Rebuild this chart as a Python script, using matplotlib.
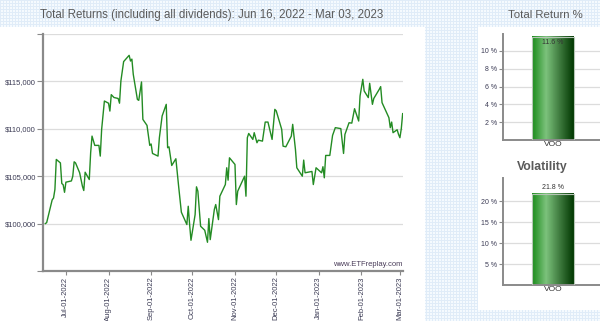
import numpy as np
import pandas as pd
from matplotlib import pyplot as plt
from matplotlib import dates as mpl_dates
from matplotlib.colors import LinearSegmentedColormap

# portfolio value
dates = ['2022-06-16', '2022-06-17', '2022-06-21', '2022-06-22', '2022-06-23', '2022-06-24',
         '2022-06-27', '2022-06-28', '2022-06-29', '2022-06-30', '2022-07-01', '2022-07-05',
         '2022-07-06', '2022-07-07', '2022-07-08', '2022-07-11', '2022-07-13', '2022-07-14',
         '2022-07-15', '2022-07-18', '2022-07-19', '2022-07-20', '2022-07-22', '2022-07-25',
         '2022-07-26', '2022-07-27', '2022-07-29', '2022-08-01', '2022-08-02', '2022-08-03',
         '2022-08-05', '2022-08-08', '2022-08-09', '2022-08-10', '2022-08-12', '2022-08-16',
         '2022-08-17', '2022-08-18', '2022-08-19', '2022-08-22', '2022-08-23', '2022-08-25',
         '2022-08-26', '2022-08-29', '2022-08-31', '2022-09-01', '2022-09-02', '2022-09-06',
         '2022-09-07', '2022-09-09', '2022-09-12', '2022-09-13', '2022-09-14', '2022-09-16',
         '2022-09-19', '2022-09-21', '2022-09-23', '2022-09-27', '2022-09-28', '2022-09-29',
         '2022-09-30', '2022-10-03', '2022-10-04', '2022-10-05', '2022-10-07', '2022-10-10',
         '2022-10-12', '2022-10-13', '2022-10-14', '2022-10-17', '2022-10-18', '2022-10-20',
         '2022-10-21', '2022-10-25', '2022-10-26', '2022-10-27', '2022-10-28', '2022-11-01',
         '2022-11-02', '2022-11-03', '2022-11-08', '2022-11-09', '2022-11-10', '2022-11-11',
         '2022-11-14', '2022-11-15', '2022-11-17', '2022-11-18', '2022-11-21', '2022-11-23',
         '2022-11-25', '2022-11-28', '2022-11-30', '2022-12-01', '2022-12-05', '2022-12-06',
         '2022-12-08', '2022-12-12', '2022-12-13', '2022-12-15', '2022-12-16', '2022-12-20',
         '2022-12-21', '2022-12-22', '2022-12-27', '2022-12-28', '2022-12-30', '2023-01-03',
         '2023-01-04', '2023-01-05', '2023-01-06', '2023-01-09', '2023-01-11', '2023-01-13',
         '2023-01-17', '2023-01-19', '2023-01-20', '2023-01-23', '2023-01-25', '2023-01-27',
         '2023-01-30', '2023-01-31', '2023-02-02', '2023-02-03', '2023-02-06', '2023-02-07',
         '2023-02-09', '2023-02-10', '2023-02-14', '2023-02-15', '2023-02-16', '2023-02-21',
         '2023-02-22', '2023-02-23', '2023-02-24', '2023-02-27', '2023-02-28', '2023-03-01',
         '2023-03-02', '2023-03-03']
values = [100000, 100100, 102500, 102700, 103600, 106770,
          106400, 104230, 104100, 103300, 104370, 104500,
          105000, 106520, 106400, 105360, 103950, 103490,
          105420, 104650, 107470, 109230, 108250, 108250,
          107120, 109940, 112930, 112700, 111870, 113600,
          113300, 113200, 112700, 115040, 117090, 117750,
          117150, 117350, 115750, 113100, 113000, 114940,
          110990, 110360, 108250, 108400, 107400, 107120,
          109060, 111350, 112580, 108000, 108100, 106130,
          106840, 103950, 101200, 99900, 101830, 99900,
          98240, 100950, 103880, 103420, 99720, 99300,
          98030, 100530, 98310, 101500, 102010, 100420,
          102890, 104120, 105890, 104580, 106940, 106240,
          102010, 103420, 105000, 102890, 109060, 109510,
          108880, 109590, 108530, 108800, 108700, 110710,
          110710, 108880, 112050, 111900, 109940, 108170,
          108100, 109230, 110470, 107820, 105890, 105000,
          106700, 105360, 105500, 104120, 105890, 105360,
          106000, 104830, 107190, 107190, 109300, 110120,
          110020, 107400, 109410, 110640, 110600, 112120,
          110820, 113460, 115220, 113990, 113290, 114800,
          112580, 113200, 114170, 114450, 112760, 111170,
          110120, 110710, 109590, 109900, 109410, 109060,
          110000, 111600]

tickers = ['VOO']
total_return = [11.6]
volatility = [21.8]

W, H = 600, 321
fig = plt.figure(figsize=(W / 100, H / 100), dpi=100)
plt.rcParams['font.family'] = ['Liberation Sans', 'DejaVu Sans']

# light blue graph-paper background strips
bg = np.ones((H, W, 3))
pat = np.ones((H, W, 3)) * np.array([245, 250, 254]) / 255
pat[::3, :] = np.array([224, 236, 248]) / 255
pat[:, ::3] = np.array([224, 236, 248]) / 255
mask = np.zeros((H, W), bool)
mask[:27, :] = True
mask[27:, 425:478] = True
mask[310:, 425:] = True
bg[mask] = pat[mask]
fig.figimage(bg, xo=0, yo=0, origin='upper', zorder=-10)


def fbox(x0, y0, x1, y1):
    return [x0 / W, 1 - y1 / H, (x1 - x0) / W, (y1 - y0) / H]


grey = '#8a8a8a'
lab = '#3c3c55'

# ---- main line chart
ax = fig.add_axes(fbox(43, 34, 403, 271))
ax.set_facecolor('none')
x = pd.to_datetime(dates)
ax.plot(x, values, color='#238b23', lw=1.0)
ax.set_xlim(pd.Timestamp('2022-06-14 08:00'), pd.Timestamp('2023-03-03 06:00'))
ax.set_ylim(95000, 120000)
ax.set_yticks([95000, 100000, 105000, 110000, 115000, 120000])
ax.set_yticklabels(['', '$100,000', '$105,000', '$110,000', '$115,000', ''])
ax.yaxis.grid(True, color='#dcdcdc', lw=0.9)
ax.set_axisbelow(True)
ax.xaxis.set_major_locator(mpl_dates.MonthLocator())
ax.xaxis.set_major_formatter(mpl_dates.DateFormatter('%b-01-%Y'))
for s in ['top', 'right']:
    ax.spines[s].set_visible(False)
for s in ['left', 'bottom']:
    ax.spines[s].set_color(grey)
    ax.spines[s].set_linewidth(1.6)
ax.tick_params(axis='y', colors=grey, labelcolor=lab, labelsize=5.5, length=4, width=0.8, pad=1)
ax.tick_params(axis='x', colors=grey, labelcolor=lab, labelsize=5.5, length=3, width=0.8,
               rotation=90, pad=1)
ax.text(0.997, 0.012, 'www.ETFreplay.com', transform=ax.transAxes, ha='right', va='bottom',
        fontsize=5.5, color='#4a3d5a')
fig.text(212 / W, 1 - 15 / H, 'Total Returns (including all dividends): Jun 16, 2022 - Mar 03, 2023',
         ha='center', va='center', fontsize=8.3, color='#5a5a5a')

# ---- bar charts on the right
cmap = LinearSegmentedColormap.from_list('bar', ['#1c8c1c', '#7cc27c', '#3e7a3e', '#013801'])
grad = np.linspace(0, 1, 64).reshape(1, -1)


def bar_panel(box, vals, ymax, ticks, label_inside):
    bx = fig.add_axes(box)
    bx.set_facecolor('none')
    bars = bx.bar(tickers, vals, width=0.84, color='none', edgecolor='#b5c5b5', lw=0.8, zorder=3)
    for b, v in zip(bars, vals):
        bx.imshow(grad, extent=[b.get_x(), b.get_x() + b.get_width(), 0, v], aspect='auto',
                  cmap=cmap, zorder=2)
        if label_inside:
            bx.text(b.get_x() + b.get_width() / 2, v - ymax * 0.02, f'{v} %', ha='center',
                    va='top', fontsize=5, color='#333333', zorder=4)
        else:
            bx.text(b.get_x() + b.get_width() / 2, v + ymax * 0.025, f'{v} %', ha='center',
                    va='bottom', fontsize=5, color='#333333', zorder=4)
    bx.set_xlim(-1, 1)
    bx.set_ylim(0, ymax)
    bx.set_yticks(ticks)
    bx.set_yticklabels([f'{t} %' for t in ticks])
    bx.yaxis.grid(True, color='#dcdcdc', lw=0.9)
    bx.set_axisbelow(True)
    for s in ['top', 'right']:
        bx.spines[s].set_visible(False)
    for s in ['left', 'bottom']:
        bx.spines[s].set_color(grey)
        bx.spines[s].set_linewidth(1.4)
    bx.tick_params(axis='y', colors=grey, labelcolor=lab, labelsize=5, length=3, width=0.8, pad=1)
    bx.tick_params(axis='x', length=0, labelsize=6, labelcolor='#333333', pad=1)
    return bx


bar_panel(fbox(503, 34, 603, 140), total_return, 11.9, [2, 4, 6, 8, 10], True)
bar_panel(fbox(503, 178, 603, 285), volatility, 25.5, [5, 10, 15, 20], False)
fig.text(545 / W, 1 - 15 / H, 'Total Return %', ha='center', va='center', fontsize=8.2,
         color='#5a5a5a')
fig.text(542 / W, 1 - 167 / H, 'Volatility', ha='center', va='center', fontsize=8.8,
         fontweight='bold', color='#5a5a5a')

fig.savefig('out.png', dpi=100)
